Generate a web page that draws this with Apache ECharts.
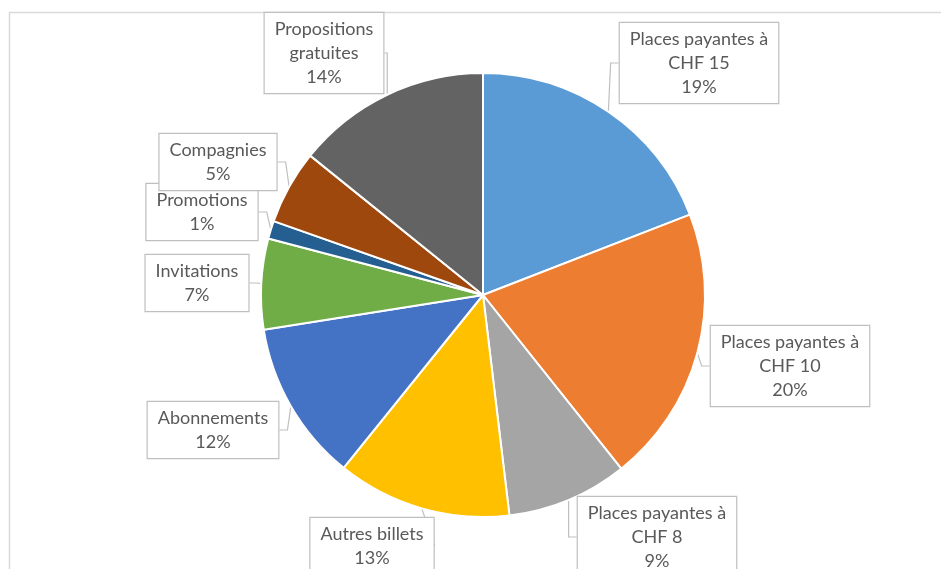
<!DOCTYPE html>
<html>
<head>
<meta charset="utf-8">
<script src="https://cdn.jsdelivr.net/npm/echarts@6/dist/echarts.min.js"></script>
<style>
  html, body { margin: 0; padding: 0; background: #ffffff; }
  #chart { width: 941px; height: 569px; }
</style>
</head>
<body>
<div id="chart"></div>
<script>
// Data
const categories = [
  'Places payantes à\nCHF 15',
  'Places payantes à\nCHF 10',
  'Places payantes à\nCHF 8',
  'Autres billets',
  'Abonnements',
  'Invitations',
  'Promotions',
  'Compagnies',
  'Propositions\ngratuites'
];
const values = [19.1, 20.2, 8.8, 12.7, 11.7, 6.6, 1.3, 5.4, 14.2];
const colors = ['#5B9BD5', '#ED7D31', '#A5A5A5', '#FFC000', '#4472C4', '#70AD47', '#255E91', '#9E480E', '#636363'];

// label box centres (layout, not data)
const labelCenters = [
  [699, 63], [790, 366], [657, 537], [372, 546], [213, 430],
  [197, 283], [202, 212], [218, 162], [324, 53]
];

const total = values.reduce((a, b) => a + b, 0);
const chart = echarts.init(document.getElementById('chart'), null, { renderer: 'canvas' });

chart.setOption({
  backgroundColor: '#ffffff',
  animation: false,
  graphic: [{
    type: 'rect',
    shape: { x: 9.5, y: 12.5, width: 1000, height: 700 },
    style: { fill: 'none', stroke: '#d9d9d9', lineWidth: 1.5 },
    z: -10, silent: true
  }],
  series: [{
    type: 'pie',
    center: [483, 295],
    radius: 222,
    startAngle: 90,
    clockwise: true,
    avoidLabelOverlap: false,
    itemStyle: { borderColor: '#ffffff', borderWidth: 2 },
    label: {
      show: true,
      position: 'outside',
      formatter: p => p.name + '\n' + Math.round(p.value / total * 100) + '%',
      fontFamily: 'Lato',
      fontSize: 18,
      lineHeight: 24,
      color: '#595959',
      align: 'center',
      backgroundColor: '#ffffff',
      borderColor: '#bfbfbf',
      borderWidth: 1.2,
      padding: [4, 10]
    },
    labelLine: {
      show: true,
      length: 8,
      length2: 8,
      lineStyle: { color: '#bfbfbf', width: 1.2 }
    },
    labelLayout: function (params) {
      const c = labelCenters[params.dataIndex];
      return { x: c[0], y: c[1], align: 'center', verticalAlign: 'middle', hideOverlap: false };
    },
    data: categories.map((name, i) => ({
      name: name,
      value: values[i],
      itemStyle: { color: colors[i] }
    }))
  }]
});
</script>
</body>
</html>
